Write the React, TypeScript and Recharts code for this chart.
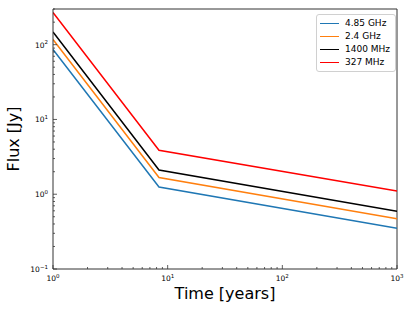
import React from 'react';
import { LineChart, Line, XAxis, YAxis, Legend, ReferenceLine } from 'recharts';

const times = [1, 8.4, 1000];
const flux485 = [86, 1.25, 0.35];
const flux24 = [117, 1.67, 0.47];
const flux1400 = [148, 2.11, 0.59];
const flux327 = [270, 3.88, 1.1];

const seriesNames = ['4.85 GHz', '2.4 GHz', '1400 MHz', '327 MHz'];
const seriesKeys = ['f485', 'f24', 'f1400', 'f327'];
const seriesColors = ['#1f77b4', '#ff7f0e', '#000000', '#ff0000'];

const xTicks = [1, 2, 3, 4, 5, 6, 7, 8, 9, 10, 20, 30, 40, 50, 60, 70, 80, 90, 100, 200, 300, 400, 500, 600, 700, 800, 900, 1000];
const yTicks = [0.1, 0.2, 0.3, 0.4, 0.5, 0.6, 0.7, 0.8, 0.9, 1, 2, 3, 4, 5, 6, 7, 8, 9, 10, 20, 30, 40, 50, 60, 70, 80, 90, 100, 200, 300];

const data = times.map((t, i) => ({
  time: t,
  f485: flux485[i],
  f24: flux24[i],
  f1400: flux1400[i],
  f327: flux327[i],
}));

const W = 415;
const H = 311;
const PLOT_LEFT = 53;
const PLOT_RIGHT = 397;
const PLOT_TOP = 9;
const PLOT_BOTTOM = 269;
const AXIS_COLOR = '#333';
const FONT = '"DejaVu Sans", sans-serif';

const isMajor = (v: number) => {
  const e = Math.log10(v);
  return Math.abs(e - Math.round(e)) < 1e-6;
};

const expText = (v: number) => {
  const e = Math.round(Math.log10(v));
  return e < 0 ? '\u2212' + Math.abs(e) : String(e);
};

const XTick = (props: any) => {
  const { x, payload } = props;
  const v = payload.value;
  const major = isMajor(v);
  const len = major ? 4 : 2;
  return (
    <g>
      <line x1={x} x2={x} y1={PLOT_BOTTOM} y2={PLOT_BOTTOM - len} stroke={AXIS_COLOR} strokeWidth={0.8} />
      {major && (
        <text x={x} y={PLOT_BOTTOM + 12} textAnchor="middle" fontSize={7.5} fontFamily={FONT} fill="#000">
          10<tspan dy={-3.5} fontSize={5.5}>{expText(v)}</tspan>
        </text>
      )}
    </g>
  );
};

const YTick = (props: any) => {
  const { y, payload } = props;
  const v = payload.value;
  const major = isMajor(v);
  const len = major ? 4 : 2;
  return (
    <g>
      <line x1={PLOT_LEFT} x2={PLOT_LEFT + len} y1={y} y2={y} stroke={AXIS_COLOR} strokeWidth={0.8} />
      {major && (
        <text x={PLOT_LEFT - 5} y={y + 3} textAnchor="end" fontSize={7.5} fontFamily={FONT} fill="#000">
          10<tspan dy={-3.5} fontSize={5.5}>{expText(v)}</tspan>
        </text>
      )}
    </g>
  );
};

const LegendBox = () => (
  <div
    style={{
      border: '1px solid #d0d0d0',
      borderRadius: 3,
      background: '#fff',
      padding: '2px 5px 2px 3px',
      fontFamily: FONT,
      fontSize: 9,
      lineHeight: '13px',
    }}
  >
    {seriesNames.map((name, i) => (
      <div key={name} style={{ display: 'flex', alignItems: 'center' }}>
        <span style={{ display: 'inline-block', width: 19, height: 1.5, background: seriesColors[i], marginRight: 6 }} />
        <span>{name}</span>
      </div>
    ))}
  </div>
);

export default function App() {
  return (
    <div style={{ position: 'absolute', left: 0, top: 0, width: W, height: H, background: '#fff' }}>
      <LineChart
        width={W}
        height={H}
        data={data}
        margin={{ top: PLOT_TOP, right: W - PLOT_RIGHT, left: 0, bottom: 0 }}
      >
        <XAxis
          dataKey="time"
          type="number"
          scale="log"
          domain={[1, 1000]}
          ticks={xTicks}
          interval={0}
          allowDataOverflow
          height={H - PLOT_BOTTOM}
          tickLine={false}
          axisLine={{ stroke: AXIS_COLOR, strokeWidth: 1 }}
          tick={<XTick />}
          label={{ value: 'Time [years]', position: 'insideBottom', offset: 12, fontSize: 16, fontFamily: FONT, fill: '#000' }}
        />
        <YAxis
          type="number"
          scale="log"
          domain={[0.1, 300]}
          ticks={yTicks}
          interval={0}
          allowDataOverflow
          width={PLOT_LEFT}
          tickLine={false}
          axisLine={{ stroke: AXIS_COLOR, strokeWidth: 1 }}
          tick={<YTick />}
          label={{ value: 'Flux [Jy]', angle: -90, position: 'insideLeft', offset: 13, fontSize: 16, fontFamily: FONT, fill: '#000', style: { textAnchor: 'middle' } }}
        />
        <ReferenceLine y={300} stroke={AXIS_COLOR} strokeWidth={1} />
        <ReferenceLine x={1000} stroke={AXIS_COLOR} strokeWidth={1} />
        <Legend
          layout="vertical"
          align="center"
          verticalAlign="middle"
          content={<LegendBox />}
          wrapperStyle={{ position: 'absolute', left: 316, top: 14, width: 'auto', height: 'auto' }}
        />
        {seriesKeys.map((k, i) => (
          <Line
            key={k}
            dataKey={k}
            name={seriesNames[i]}
            stroke={seriesColors[i]}
            strokeWidth={1.5}
            dot={false}
            isAnimationActive={false}
          />
        ))}
      </LineChart>
    </div>
  );
}
